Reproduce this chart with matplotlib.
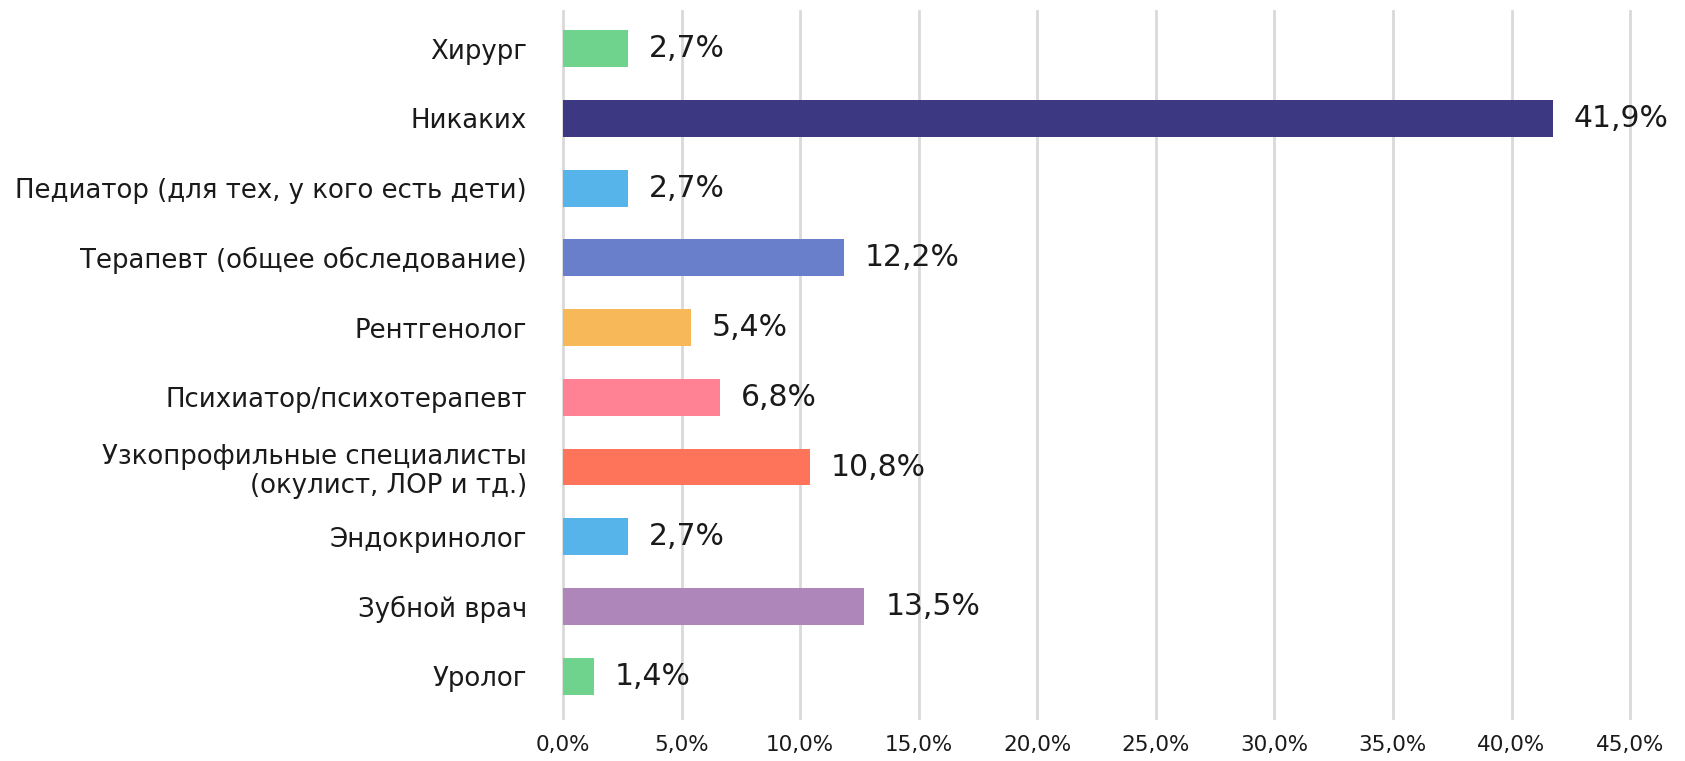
import matplotlib
matplotlib.use("Agg")
import matplotlib.pyplot as plt

plt.rcParams['font.family'] = ['DejaVu Sans']

# данные
categories = [
    "Хирург",
    "Никаких",
    "Педиатор (для тех, у кого есть дети)",
    "Терапевт (общее обследование)",
    "Рентгенолог",
    "Психиатор/психотерапевт",
    "Узкопрофильные специалисты\n(окулист, ЛОР и тд.)",
    "Эндокринолог",
    "Зубной врач",
    "Уролог",
]
values = [2.7, 41.9, 2.7, 12.2, 5.4, 6.8, 10.8, 2.7, 13.5, 1.4]
# длины столбиков, как они нарисованы в исходнике (чуть короче подписей)
bar_lengths = [2.74, 41.73, 2.74, 11.85, 5.39, 6.61, 10.40, 2.74, 12.71, 1.31]
colors = ["#6fd38e", "#3c3882", "#56b4ea", "#6a7fcc", "#f7b85a",
          "#fe8294", "#fe745a", "#56b4ea", "#ae86b9", "#6fd38e"]
xticks = [0, 5, 10, 15, 20, 25, 30, 35, 40, 45]

fig = plt.figure(figsize=(16.85, 7.61), dpi=100)
ax = fig.add_axes([0.3341, 0.0565, 0.6333, 0.929])

y = list(range(len(categories)))
ax.barh(y, bar_lengths, height=0.53, color=colors, zorder=3)

for yi, v, L in zip(y, values, bar_lengths):
    ax.annotate(f"{v:.1f}%".replace(".", ","), xy=(L, yi), xytext=(15, 0),
                textcoords="offset points", va="center", ha="left",
                fontsize=21.5, color="#1a1a1a", clip_on=False)

ax.set_xlim(0, 45)
ax.set_ylim(9.6, -0.54)
ax.set_yticks(y)
ax.set_yticklabels(categories, fontsize=18.7, color="#1a1a1a", linespacing=1.15)
ax.set_xticks(xticks)
ax.set_xticklabels([f"{t},0%" for t in xticks], fontsize=15.5, color="#1a1a1a")
ax.tick_params(axis="y", length=0, pad=26)
ax.tick_params(axis="x", length=0, pad=12)
ax.xaxis.grid(True, color="#d9d9d9", linewidth=2, zorder=0)
for gl in ax.get_xgridlines():
    gl.set_clip_on(False)
for s in ax.spines.values():
    s.set_visible(False)

fig.savefig("out.png", dpi=100)
